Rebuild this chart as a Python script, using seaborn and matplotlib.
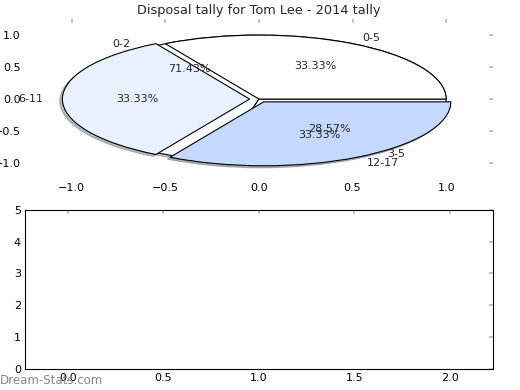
import matplotlib
matplotlib.use('Agg')
import matplotlib.pyplot as plt
import seaborn as sns

# data
age_groups = ['0-5', '6-11', '12-17']
age_values = [1, 1, 1]
young_groups = ['0-2', '3-5']
young_values = [5, 2]
title = 'Disposal tally for Tom Lee - 2014 tally'

sns.set_theme(style='white')
plt.rcParams['font.family'] = ['DejaVu Sans']
plt.rcParams['xtick.direction'] = 'in'
plt.rcParams['ytick.direction'] = 'in'
plt.rcParams['xtick.color'] = '#bbbbbb'
plt.rcParams['ytick.color'] = '#bbbbbb'
plt.rcParams['xtick.labelcolor'] = 'black'
plt.rcParams['ytick.labelcolor'] = 'black'

fig = plt.figure(figsize=(5.2, 3.9), dpi=100)
ax1 = fig.add_axes([0.048, 0.541, 0.900, 0.410])
ax2 = fig.add_axes([0.048, 0.054, 0.900, 0.408])

shadow = dict(ox=-0.01, oy=-0.022, shade=0.5)
wedge_style = dict(edgecolor='black', linewidth=0.8)

# second pie underneath, first pie on top
ax1.pie(young_values, labels=young_groups, autopct='%1.2f%%',
        colors=['white', 'white'], shadow=shadow, frame=True,
        wedgeprops=wedge_style, textprops=dict(fontsize=8))
ax1.pie(age_values, labels=age_groups, autopct='%1.2f%%',
        colors=['white', '#eaf1fe', '#c5d8fd'], explode=(0, 0.05, 0.05),
        shadow=shadow, frame=True,
        wedgeprops=wedge_style, textprops=dict(fontsize=8))
ax1.set_aspect('auto')
ax1.set_xlim(-1.25, 1.25)
ax1.set_ylim(-1.25, 1.25)
ax1.set_xticks([-1.0, -0.5, 0.0, 0.5, 1.0])
ax1.set_yticks([-1.0, -0.5, 0.0, 0.5, 1.0])
for s in ax1.spines.values():
    s.set_visible(False)
ax1.tick_params(labelsize=8, length=3, top=True, right=True, pad=3)
ax1.set_title(title, fontsize=9.3, pad=4)

ax2.set_xlim(-0.225, 2.225)
ax2.set_ylim(0, 5)
ax2.set_xticks([0.0, 0.5, 1.0, 1.5, 2.0])
ax2.set_yticks([0, 1, 2, 3, 4, 5])
for s in ax2.spines.values():
    s.set_visible(True)
    s.set_color('black')
    s.set_linewidth(0.8)
ax2.tick_params(labelsize=8, length=3, top=True, right=True, pad=3)

fig.text(0.0, 0.016, 'Dream-Stats.com', fontsize=8.5, color='#888888')

fig.savefig('out.png', dpi=100)
